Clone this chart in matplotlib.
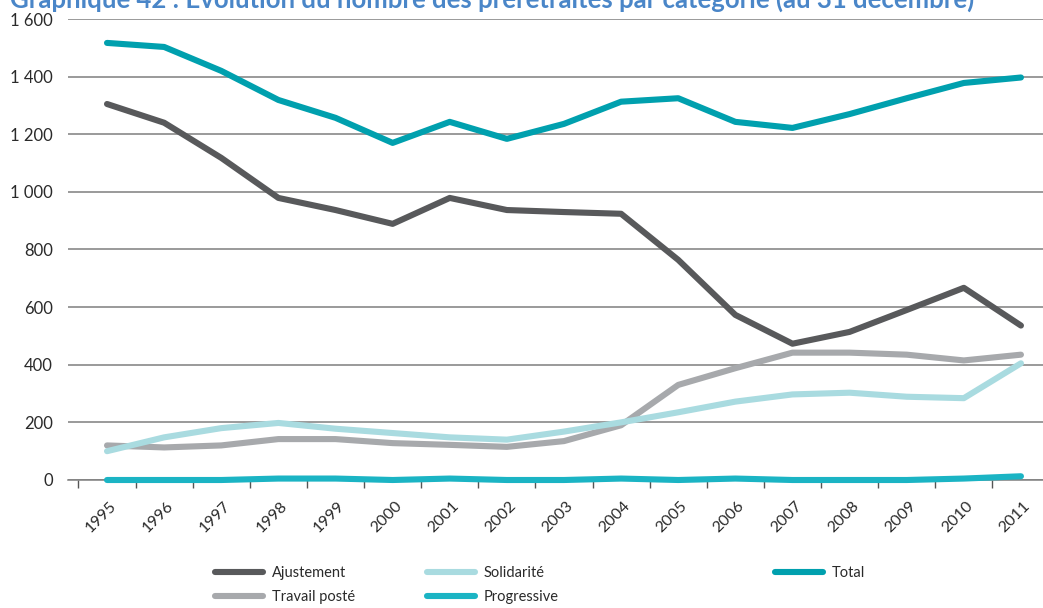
import matplotlib
matplotlib.use("Agg")
import matplotlib.pyplot as plt
import matplotlib.transforms as mtransforms
from matplotlib.ticker import FuncFormatter, FixedLocator

years = ["1995", "1996", "1997", "1998", "1999", "2000", "2001", "2002", "2003",
         "2004", "2005", "2006", "2007", "2008", "2009", "2010", "2011"]
ajustement = [1305, 1240, 1118, 979, 937, 889, 979, 937, 930, 924, 764, 573, 473, 514, 590, 667, 536]
travail_poste = [120, 113, 120, 142, 142, 128, 122, 115, 135, 190, 330, 388, 442, 442, 435, 415, 435]
solidarite = [100, 148, 180, 198, 178, 163, 148, 140, 168, 200, 235, 272, 297, 303, 289, 284, 405]
progressive = [0, 0, 0, 5, 5, 0, 5, 0, 0, 5, 0, 5, 0, 0, 0, 5, 13]
total = [1517, 1503, 1420, 1319, 1257, 1170, 1243, 1184, 1236, 1313, 1325, 1243, 1222, 1270, 1325, 1378, 1397]

series = [
    ("Ajustement", ajustement, "#58595b"),
    ("Travail posté", travail_poste, "#a7a9ac"),
    ("Solidarité", solidarite, "#a9dbe0"),
    ("Progressive", progressive, "#1bb4c4"),
    ("Total", total, "#00a0ae"),
]

plt.rcParams['font.family'] = ['Lato', 'DejaVu Sans']

W, H = 1043, 608
fig = plt.figure(figsize=(W / 100, H / 100), dpi=100)
ax = fig.add_axes([68 / W, (H - 480) / H, 1 - 68 / W, (480 - 19) / H])

x = list(range(len(years)))
lines = {}
for name, vals, col in series:
    ln, = ax.plot(x, vals, color=col, lw=4.4, solid_capstyle='round',
                  solid_joinstyle='round', clip_on=False, zorder=3, label=name)
    lines[name] = ln

ax.set_xlim(-0.683, 16.386)
ax.set_ylim(0, 1600)
ax.set_yticks(range(0, 1601, 200))
ax.yaxis.set_major_formatter(FuncFormatter(lambda v, p: f"{int(v):,}".replace(",", " ")))
ax.grid(axis='y', color='#7f7f7f', lw=1.1, zorder=1)
ax.tick_params(axis='y', length=0, pad=11, labelsize=12, labelcolor='#2a2a2a')

ax.set_xticks(x)
ax.set_xticklabels(years, rotation=45, ha='right', va='center', rotation_mode='anchor')
ax.tick_params(axis='x', which='major', length=0, pad=17, labelsize=11.5, labelcolor='#2a2a2a')
ax.xaxis.set_minor_locator(FixedLocator([i - 0.5 for i in range(len(years))]))
ax.tick_params(axis='x', which='minor', length=6, width=1, color='#555555', direction='out')
offset = mtransforms.ScaledTranslation(7 / 100, 0, fig.dpi_scale_trans)
for lbl in ax.get_xticklabels():
    lbl.set_transform(lbl.get_transform() + offset)

for s in ['top', 'right', 'left']:
    ax.spines[s].set_visible(False)
ax.spines['bottom'].set_color('#7f7f7f')
ax.spines['bottom'].set_linewidth(1.1)

fig.text(10 / W, 1 - 8 / H, "Graphique 42 : Evolution du nombre des préretraités par catégorie (au 31 décembre)",
         color='#4a86c8', fontsize=18.5, fontweight='bold', ha='left', va='baseline')

def leg(names, xpx):
    lg = fig.legend([lines[n] for n in names], names, loc='upper left',
                    bbox_to_anchor=(xpx / W, 1 - 566 / H), frameon=False,
                    fontsize=10.5, handlelength=3.3, handletextpad=0.6,
                    labelspacing=0.72, borderaxespad=0, borderpad=0)
    for t in lg.get_texts():
        t.set_color('#2a2a2a')
    return lg

leg(["Ajustement", "Travail posté"], 215)
leg(["Solidarité", "Progressive"], 427)
leg(["Total"], 775)

fig.savefig("out.png", dpi=100)
